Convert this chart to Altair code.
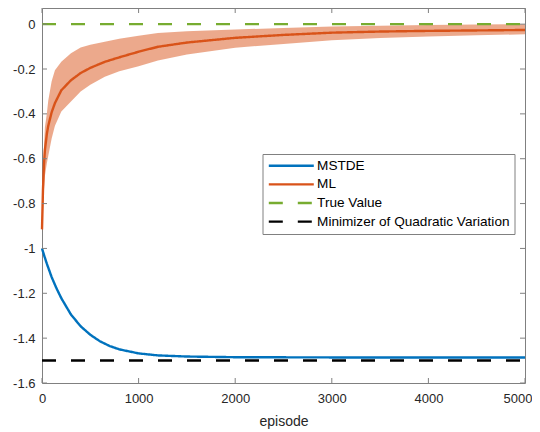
import altair as alt
import pandas as pd

# ---------------- data ----------------
series_names = ["MSTDE", "ML", "True Value", "Minimizer of Quadratic Variation"]
series_colors = ["#0072BD", "#D95319", "#77AC30", "#000000"]

ms_x = [0, 25, 50, 100, 150, 200, 300, 400, 500, 600, 700, 800, 1000, 1200, 1500, 2000, 3000, 4000, 5000]
ms_y = [-1.000, -1.035, -1.068, -1.128, -1.178, -1.222, -1.295, -1.347, -1.385, -1.414,
        -1.435, -1.450, -1.468, -1.477, -1.482, -1.485, -1.486, -1.486, -1.486]

ml_x = [0, 10, 20, 30, 50, 65, 100, 134, 200, 300, 400, 500, 650, 800, 1000, 1200, 1500,
        2000, 2500, 3000, 3500, 4000, 4500, 5000]
ml_y = [-0.915, -0.74, -0.63, -0.562, -0.49, -0.453, -0.393, -0.352, -0.295, -0.250, -0.218,
        -0.195, -0.168, -0.148, -0.123, -0.101, -0.082, -0.061, -0.048, -0.038, -0.033,
        -0.030, -0.028, -0.026]
ml_hi = [-0.90, -0.65, -0.55, -0.46, -0.40, -0.34, -0.255, -0.205, -0.168, -0.13, -0.104,
         -0.092, -0.078, -0.065, -0.052, -0.040, -0.032, -0.024, -0.017, -0.010, -0.007,
         -0.004, -0.002, 0.000]
ml_lo = [-0.93, -0.84, -0.74, -0.677, -0.62, -0.587, -0.51, -0.453, -0.39, -0.345, -0.30,
         -0.27, -0.235, -0.21, -0.188, -0.162, -0.135, -0.105, -0.088, -0.072, -0.062,
         -0.055, -0.050, -0.045]

ref_x = [0, 5000]
true_y = [0.0, 0.0]
minq_y = [-1.5, -1.5]

x_ticks = [0, 1000, 2000, 3000, 4000, 5000]
y_ticks = [-1.6, -1.4, -1.2, -1.0, -0.8, -0.6, -0.4, -0.2, 0.0]

# ---------------- tables ----------------
rows = []
for x, y in zip(ms_x, ms_y):
    rows.append({"series": "MSTDE", "x": x, "y": y, "o": 0})
for x, y in zip(ml_x, ml_y):
    rows.append({"series": "ML", "x": x, "y": y, "o": 1})
for x, y in zip(ref_x, true_y):
    rows.append({"series": "True Value", "x": x, "y": y, "o": 2})
for x, y in zip(ref_x, minq_y):
    rows.append({"series": "Minimizer of Quadratic Variation", "x": x, "y": y, "o": 3})
lines_df = pd.DataFrame(rows)
band_df = pd.DataFrame({"x": ml_x, "lo": ml_lo, "hi": ml_hi})
xt_df = pd.DataFrame({"x": x_ticks})
yt_df = pd.DataFrame({"y": y_ticks})

W, H = 483, 375
FONT = "Liberation Sans"
TXT = "#262626"
BOX = "#808080"

xs = alt.Scale(domain=[0, 5000], nice=False, zero=False)
ys = alt.Scale(domain=[-1.6, 0.072], nice=False, zero=False)

xaxis = alt.Axis(values=x_ticks, title="episode", grid=False, domain=False, ticks=False,
                 tickSize=0, labelFlush=False, labelOverlap=False, labelFont=FONT,
                 labelFontSize=13, labelColor=TXT, labelPadding=9, format="d",
                 labelAlign={"condition": {"test": "datum.value == 5000", "value": "right"}, "value": "center"},
                 labelOffset={"condition": {"test": "datum.value == 5000", "value": 7}, "value": 0},
                 titleFont=FONT, titleFontSize=14, titleFontWeight="normal",
                 titleColor=TXT, titlePadding=9)
yaxis = alt.Axis(values=y_ticks, title=None, grid=False, domain=False, ticks=False,
                 tickSize=0, labelFlush=False, labelOverlap=False, labelFont=FONT,
                 labelFontSize=13, labelColor=TXT, labelPadding=7,
                 labelExpr="datum.value == 0 ? '0' : '-' + format(abs(datum.value), '.2~f')")

X = lambda f: alt.X(f, scale=xs, axis=xaxis, title="episode")
Y = lambda f: alt.Y(f, scale=ys, axis=yaxis, title=None)

band = alt.Chart(band_df).mark_area(color="#D95319", opacity=0.5).encode(
    x=X("x:Q"),
    y=Y("lo:Q"),
    y2="hi:Q",
)

leg = alt.Legend(orient="none", legendX=220.5, legendY=146, title=None, direction="vertical",
                 labelFont=FONT, labelFontSize=13.6, labelColor="#000000", labelLimit=0,
                 fillColor="white", strokeColor=BOX, padding=5, rowPadding=3.6,
                 symbolType="M-11.25,0H11.25", symbolSize=16, symbolStrokeWidth=2.6,
                 symbolOffset=17, labelOffset=19)

lines = alt.Chart(lines_df).mark_line().encode(
    x=X("x:Q"),
    y=Y("y:Q"),
    color=alt.Color("series:N", scale=alt.Scale(domain=series_names, range=series_colors), legend=leg),
    strokeDash=alt.StrokeDash("series:N",
                              scale=alt.Scale(domain=series_names, range=[[1, 0], [1, 0], [14, 15], [14, 15]]),
                              legend=leg),
    strokeWidth=alt.StrokeWidth("series:N",
                                scale=alt.Scale(domain=series_names, range=[2.4, 2.4, 3, 3]),
                                legend=None),
    order="o:Q",
)

xt_bot = alt.Chart(xt_df).mark_rule(color=BOX, strokeWidth=1).encode(
    x=X("x:Q"), y=alt.value(H), y2=alt.value(H - 5))
xt_top = alt.Chart(xt_df).mark_rule(color=BOX, strokeWidth=1).encode(
    x=X("x:Q"), y=alt.value(0), y2=alt.value(5))
yt_left = alt.Chart(yt_df).mark_rule(color=BOX, strokeWidth=1).encode(
    y=Y("y:Q"), x=alt.value(0), x2=alt.value(5))
yt_right = alt.Chart(yt_df).mark_rule(color=BOX, strokeWidth=1).encode(
    y=Y("y:Q"), x=alt.value(W), x2=alt.value(W - 5))

chart = alt.layer(band, lines, xt_bot, xt_top, yt_left, yt_right).properties(
    width=W, height=H,
    padding={"left": 34, "top": 0, "right": 7, "bottom": 49},
    autosize=alt.AutoSizeParams(type="none"),
    background="white",
).configure_view(stroke=BOX, strokeWidth=1)

chart.save("out.html", embed_options={"renderer": "svg", "actions": False})
